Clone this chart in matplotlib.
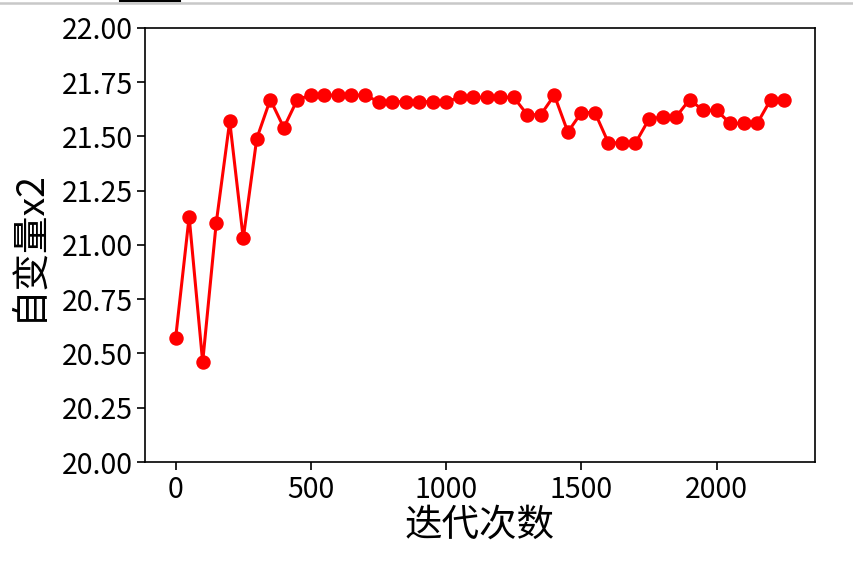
import numpy as np
import matplotlib
matplotlib.use("Agg")
import matplotlib.pyplot as plt
from matplotlib.lines import Line2D

plt.rcParams['font.family'] = ['Noto Sans CJK SC', 'DejaVu Sans']
plt.rcParams['axes.unicode_minus'] = False

# 迭代次数 (每 50 次记录一次)
iters = list(range(0, 2300, 50))
x2 = [20.57, 21.13, 20.46, 21.10, 21.57, 21.03, 21.49, 21.67, 21.54, 21.67,
      21.69, 21.69, 21.69, 21.69, 21.69, 21.66, 21.66, 21.66, 21.66, 21.66,
      21.66, 21.68, 21.68, 21.68, 21.68, 21.68, 21.60, 21.60, 21.69, 21.52,
      21.61, 21.61, 21.47, 21.47, 21.47, 21.58, 21.59, 21.59, 21.67, 21.62,
      21.62, 21.56, 21.56, 21.56, 21.67, 21.67]
y_ticks = [20.00, 20.25, 20.50, 20.75, 21.00, 21.25, 21.50, 21.75, 22.00]

fig = plt.figure(figsize=(8.54, 5.69), dpi=100)
ax = fig.add_axes([0.170, 0.188, 0.784, 0.763])
ax.plot(iters, x2, color="red", marker="o", markersize=9.4, lw=2.2)
ax.set_ylim(20, 22)
ax.set_yticks(y_ticks)
ax.set_yticklabels([f"{v:.2f}" for v in y_ticks])
ax.tick_params(labelsize=20.5, width=1.2, length=5.5)
for s in ax.spines.values():
    s.set_linewidth(1.2)
ax.set_xlabel("迭代次数", fontsize=27, labelpad=1)
ax.set_ylabel("自变量x2", fontsize=27, labelpad=10)

# 截图顶部的灰线
fig.add_artist(Line2D([0, 1], [0.995, 0.995], color="#c8c8c8", lw=1.8,
                      transform=fig.transFigure))
fig.add_artist(Line2D([0.141, 0.211], [0.999, 0.999], color="black", lw=1.5,
                      transform=fig.transFigure))

fig.savefig("out.png", dpi=100)
